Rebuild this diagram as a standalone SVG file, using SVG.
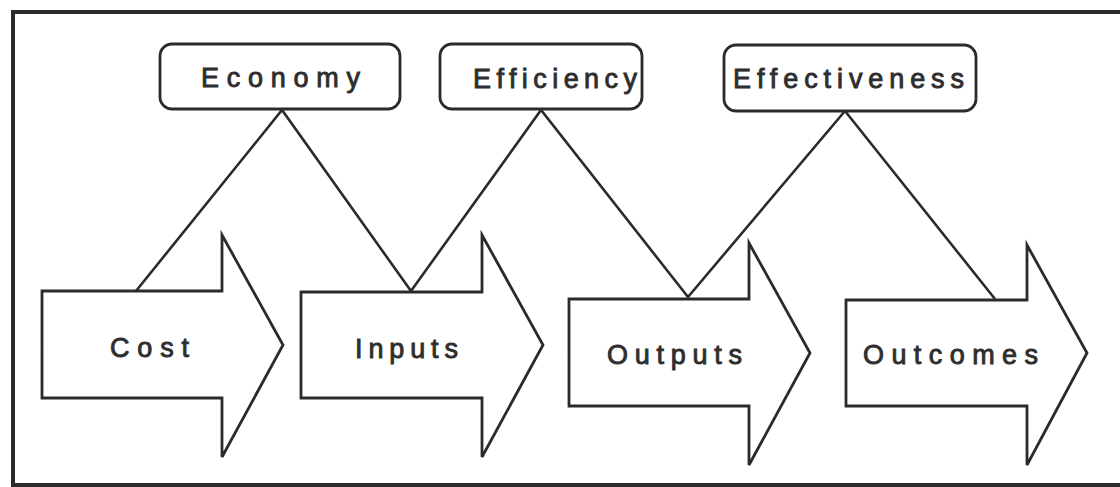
<svg xmlns="http://www.w3.org/2000/svg" width="1120" height="487" viewBox="0 0 1120 487">
<style>
.frame{fill:none;stroke:#2b2b2b;stroke-width:4}
.box{fill:#fff;stroke:#2b2b2b;stroke-width:2.8}
.arrow{fill:#fff;stroke:#2b2b2b;stroke-width:2.8;stroke-linejoin:miter}
.conn{fill:none;stroke:#2b2b2b;stroke-width:2.6}
text{font-family:"Liberation Sans",Arial,sans-serif;font-size:27px;font-weight:normal;fill:#2e2e2e;stroke:#2e2e2e;stroke-width:0.9}
</style>
<rect width="1120" height="487" fill="#fff"/>
<path class="frame" d="M1122,12 L13,12 L13,485 L1122,485"/>
<g id="connectors">
<polyline class="conn" points="136,291 282,110 411,291 541,110 688,297 845,111 995,299"/>
</g>
<g id="economy"><rect class="box" x="160" y="44" width="240" height="65" rx="12"/><text x="201" y="87" textLength="159" lengthAdjust="spacing">Economy</text></g>
<g id="efficiency"><rect class="box" x="440" y="44" width="202" height="65" rx="12"/><text x="473" y="88" textLength="164" lengthAdjust="spacing">Efficiency</text></g>
<g id="effectiveness"><rect class="box" x="724" y="45" width="252" height="66" rx="12"/><text x="733" y="88" textLength="231" lengthAdjust="spacing">Effectiveness</text></g>
<g id="cost"><polygon class="arrow" points="42,291 222,291 222,235 283,345 222,457 222,398 42,398"/><text x="110" y="357" textLength="79" lengthAdjust="spacing">Cost</text></g>
<g id="inputs"><polygon class="arrow" points="301,292 482,292 482,235 543,345 482,457 482,398 301,398"/><text x="355" y="358" textLength="103" lengthAdjust="spacing">Inputs</text></g>
<g id="outputs"><polygon class="arrow" points="569,299 749,299 749,243 810,353 749,465 749,406 569,406"/><text x="607" y="364" textLength="135" lengthAdjust="spacing">Outputs</text></g>
<g id="outcomes"><polygon class="arrow" points="846,300 1027,300 1027,245 1087,353 1027,465 1027,406 846,406"/><text x="863" y="364" textLength="175" lengthAdjust="spacing">Outcomes</text></g>
</svg>
